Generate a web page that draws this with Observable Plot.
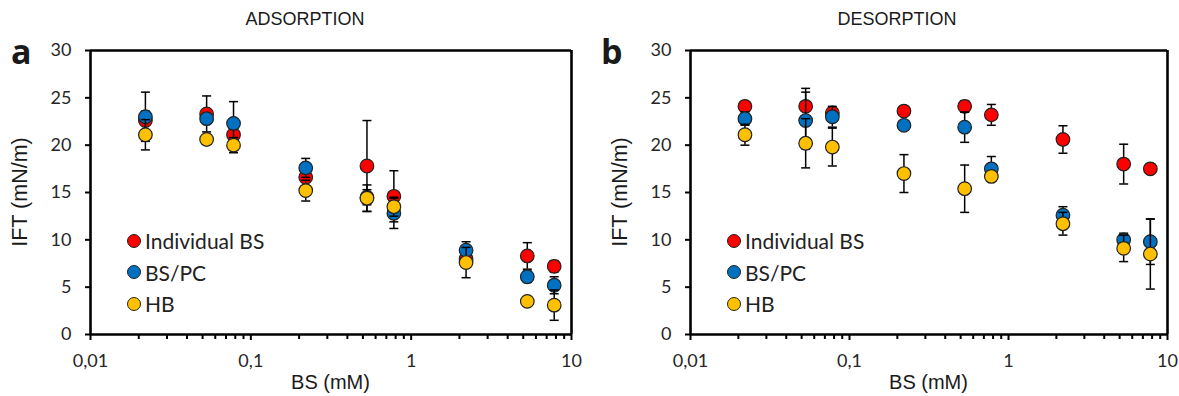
<!DOCTYPE html>
<html>
<head>
<meta charset="utf-8">
<script src="https://cdn.jsdelivr.net/npm/d3@7"></script>
<script src="https://cdn.jsdelivr.net/npm/@observablehq/plot@0.6"></script>
<style>
  html, body { margin: 0; padding: 0; background: #fff; }
  #root { position: relative; width: 1179px; height: 396px; overflow: hidden; font-family: "Liberation Sans", Arial, sans-serif; color: #1a1a1a; }
  .abs { position: absolute; white-space: nowrap; }
  .title { font-size: 18px; transform: translateX(-50%); }
  .letter { font-size: 34px; font-weight: bold; font-family: "Open Sans", sans-serif; line-height: 1; }
  .xlab { font-size: 20px; transform: translateX(-50%); }
  .ylab { font-size: 21.5px; transform-origin: 0 0; transform: rotate(-90deg) translateX(-50%); }
  .legend { font-family: Lato, "Open Sans", sans-serif; font-size: 21px; color: #222; }
  .legend .row { display: flex; align-items: center; height: 31.5px; }
  .legend .sw { width: 12px; height: 12px; border-radius: 50%; border: 1px solid #222; margin-right: 4px; }
</style>
</head>
<body>
<div id="root"></div>
<script>
// ---- data ----
const concentrations = [0.022, 0.053, 0.078, 0.22, 0.53, 0.78, 2.2, 5.3, 7.8]; // BS (mM)
const seriesNames = ["Individual BS", "BS/PC", "HB"];
const seriesColors = ["#ff0000", "#0070c0", "#ffc000"];

// Panel a: ADSORPTION
const adsIndividual    = [22.6, 23.3, 21.1, 16.6, 17.8, 14.6, 8.0, 8.3, 7.2];
const adsIndividualErr = [1.0, 1.9, 1.2, 0.9, 4.8, 2.7, 0.8, 1.4, 0.6];
const adsBSPC          = [23.0, 22.8, 22.3, 17.6, 14.5, 12.8, 8.9, 6.1, 5.2];
const adsBSPCErr       = [2.6, 0.5, 2.3, 1.0, 0.8, 1.6, 0.9, 0.6, 0.9];
const adsHB            = [21.1, 20.6, 20.0, 15.2, 14.4, 13.5, 7.6, 3.5, 3.1];
const adsHBErr         = [1.6, 0.4, 0.8, 1.1, 1.4, 1.0, 1.6, 0.3, 1.6];

// Panel b: DESORPTION
const desIndividual    = [24.1, 24.1, 23.4, 23.6, 24.1, 23.2, 20.6, 18.0, 17.5];
const desIndividualErr = [0.5, 1.9, 0.5, 0.3, 0.6, 1.1, 1.45, 2.1, 0.3];
const desBSPC          = [22.8, 22.6, 23.0, 22.1, 21.9, 17.5, 12.6, 10.0, 9.8];
const desBSPCErr       = [0.7, 3.0, 1.1, 0.3, 1.6, 1.3, 0.9, 0.7, 2.4];
const desHB            = [21.1, 20.2, 19.8, 17.0, 15.4, 16.7, 11.7, 9.1, 8.5];
const desHBErr         = [1.1, 2.6, 2.0, 2.0, 2.5, 0.5, 1.2, 1.4, 3.7];

const xDomain = [0.01, 10];
const yDomain = [0, 30];
const xMajorTicks = [0.01, 0.1, 1, 10];
const xTickLabels = ["0,01", "0,1", "1", "10"];
const xMinorTicks = [2,3,4,5,6,7,8,9].flatMap(m => [0.01, 0.1, 1].map(d => m * d));
const yTicks = [0, 5, 10, 15, 20, 25, 30];

// horizontal cap symbol for error bars
const capSymbol = { draw(ctx, size) { const w = Math.sqrt(size / Math.PI); ctx.moveTo(-w, 0); ctx.lineTo(w, 0); } };

function rowsFor(vals, errs, name) {
  return concentrations.map((c, i) => ({ x: c, y: vals[i], lo: vals[i] - errs[i], hi: vals[i] + errs[i], s: name }));
}

function panel(series, o) {
  const marks = [];
  series.forEach((rows, k) => {
    marks.push(Plot.ruleX(rows, { x: "x", y1: "lo", y2: "hi", stroke: "#000", strokeWidth: 1.5 }));
    marks.push(Plot.dot(rows, { x: "x", y: "hi", symbol: capSymbol, r: 4.5, stroke: "#000", strokeWidth: 1.5, fill: "none" }));
    marks.push(Plot.dot(rows, { x: "x", y: "lo", symbol: capSymbol, r: 4.5, stroke: "#000", strokeWidth: 1.5, fill: "none" }));
    marks.push(Plot.dot(rows, { x: "x", y: "y", r: 6.8, fill: seriesColors[k], stroke: "#222", strokeWidth: 1.2 }));
  });
  return Plot.plot({
    width: o.width, height: 396,
    marginLeft: o.ml, marginRight: o.mr, marginTop: 50, marginBottom: 62,
    style: { fontFamily: "Lato, 'Open Sans', sans-serif", fontSize: "18px", color: "#262626", background: "transparent" },
    x: { type: "log", domain: xDomain },
    y: { domain: yDomain },
    marks: [
      Plot.axisY({ ticks: yTicks, tickSize: 5, tickPadding: 14, label: null, stroke: "#000", strokeWidth: 2, strokeOpacity: 1, fontSize: 18 }),
      Plot.axisX({ ticks: xMajorTicks, tickFormat: (d) => xTickLabels[xMajorTicks.indexOf(d)], tickSize: 6, tickPadding: 14, label: null, stroke: "#000", strokeWidth: 2, strokeOpacity: 1, fontSize: 18 }),
      Plot.axisX({ ticks: xMinorTicks, tickFormat: () => "", tickSize: 5, label: null, stroke: "#000", strokeWidth: 2, strokeOpacity: 1 }),
      Plot.ruleY(yDomain, { stroke: "#000", strokeWidth: 2.6 }),
      Plot.ruleX(xDomain, { stroke: "#000", strokeWidth: 2.6 }),
      ...marks
    ]
  });
}

const root = document.getElementById("root");

function addPanel(left, width, ml, mr, title, titleX, letter, data) {
  const wrap = document.createElement("div");
  wrap.className = "abs";
  wrap.style.left = left + "px"; wrap.style.top = "0px";
  wrap.appendChild(panel(data, { width, ml, mr }));
  root.appendChild(wrap);

  const plotCx = left + ml + (width - ml - mr) / 2;

  const t = document.createElement("div");
  t.className = "abs title"; t.textContent = title;
  t.style.left = (left + titleX) + "px"; t.style.top = "9px";
  root.appendChild(t);

  const l = document.createElement("div");
  l.className = "abs letter"; l.textContent = letter;
  l.style.left = (left + 11) + "px"; l.style.top = "34px";
  root.appendChild(l);

  const xl = document.createElement("div");
  xl.className = "abs xlab"; xl.textContent = "BS (mM)";
  xl.style.left = plotCx + "px"; xl.style.top = "371px";
  root.appendChild(xl);

  const yl = document.createElement("div");
  yl.className = "abs ylab"; yl.textContent = "IFT (mN/m)";
  yl.style.left = (left + ml - 82) + "px"; yl.style.top = "192px";
  root.appendChild(yl);

  const lg = document.createElement("div");
  lg.className = "abs legend";
  lg.style.left = (left + ml + 37) + "px"; lg.style.top = "225px";
  seriesNames.forEach((n, k) => {
    const r = document.createElement("div"); r.className = "row";
    const sw = document.createElement("span"); sw.className = "sw"; sw.style.background = seriesColors[k];
    const tx = document.createElement("span"); tx.textContent = n;
    r.appendChild(sw); r.appendChild(tx); lg.appendChild(r);
  });
  root.appendChild(lg);
}

addPanel(0, 590, 90, 19, "ADSORPTION", 305, "a", [
  rowsFor(adsIndividual, adsIndividualErr, seriesNames[0]),
  rowsFor(adsBSPC, adsBSPCErr, seriesNames[1]),
  rowsFor(adsHB, adsHBErr, seriesNames[2])
]);
addPanel(590, 589, 100, 12, "DESORPTION", 307, "b", [
  rowsFor(desIndividual, desIndividualErr, seriesNames[0]),
  rowsFor(desBSPC, desBSPCErr, seriesNames[1]),
  rowsFor(desHB, desHBErr, seriesNames[2])
]);
</script>
</body>
</html>
